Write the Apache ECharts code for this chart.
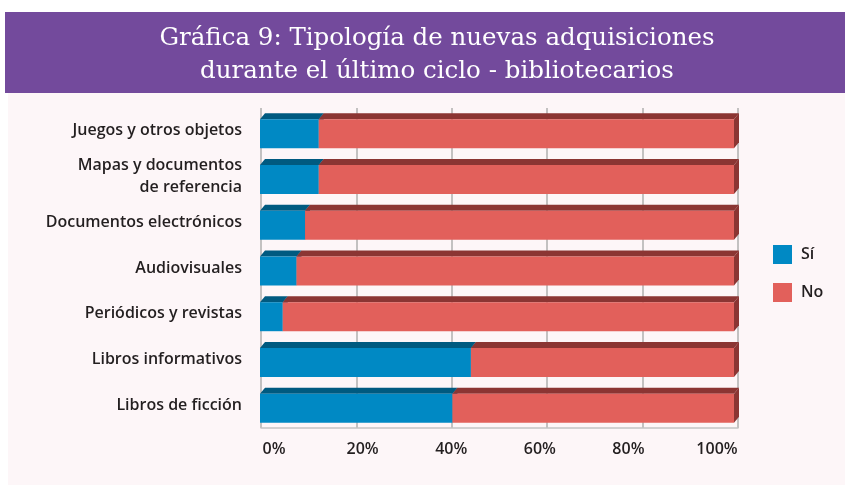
<!DOCTYPE html>
<html>
<head>
<meta charset="utf-8">
<script src="https://cdn.jsdelivr.net/npm/echarts@6/dist/echarts.min.js"></script>
<style>html,body{margin:0;padding:0;background:#fff}#c{width:845px;height:486px}</style>
</head>
<body>
<div id="c"></div>
<script>
var titleText = 'Gráfica 9: Tipología de nuevas adquisiciones\ndurante el último ciclo - bibliotecarios';
var categories = ['Juegos y otros objetos', 'Mapas y documentos\nde referencia', 'Documentos electrónicos', 'Audiovisuales', 'Periódicos y revistas', 'Libros informativos', 'Libros de ficción'];
var seriesNames = ['Sí', 'No'];
var siValues = [12.4, 12.4, 9.5, 7.7, 4.8, 44.5, 40.6];
var noValues = [87.6, 87.6, 90.5, 92.3, 95.2, 55.5, 59.4];
var tickLabels = ['0%', '20%', '40%', '60%', '80%', '100%'];

var FRONT = ['#0089C4', '#E2605B'];
var DARK = ['#005A80', '#8B3533'];
var LABEL_FONT = 'Open Sans';

function makeData(startArr, valArr) {
  return valArr.map(function (v, i) { return [startArr ? startArr[i] : 0, (startArr ? startArr[i] : 0) + v, i]; });
}

function render3D(idx) {
  return function (params, api) {
    var a = api.value(0), b = api.value(1), c = api.value(2);
    var yc = api.coord([0, c])[1];
    var H = 29, dx = 5, dy = 6;
    var ft = yc - (H + dy) / 2 + dy;
    function fx(v) { return api.coord([v, c])[0] - 1 - 3 * v / 100; }
    var x0 = fx(a), x1 = fx(b);
    return {
      type: 'group',
      children: [
        { type: 'polygon', shape: { points: [[x0, ft], [x0 + dx, ft - dy], [x1 + dx, ft - dy], [x1, ft]] }, style: { fill: DARK[idx] } },
        { type: 'polygon', shape: { points: [[x1, ft], [x1 + dx, ft - dy], [x1 + dx, ft - dy + H], [x1, ft + H]] }, style: { fill: DARK[idx] } },
        { type: 'rect', shape: { x: x0, y: ft, width: x1 - x0, height: H }, style: { fill: FRONT[idx] } }
      ]
    };
  };
}

var chart = echarts.init(document.getElementById('c'));
chart.setOption({
  animation: false,
  graphic: [
    { type: 'rect', z: -10, shape: { x: 5, y: 12, width: 840, height: 81 }, style: { fill: '#734A9C' } },
    { type: 'rect', z: -10, shape: { x: 8, y: 93, width: 837, height: 392 }, style: { fill: '#FDF6F8' } }
  ],
  title: {
    text: titleText,
    left: 432, top: 17, textAlign: 'center',
    textStyle: { fontFamily: 'DejaVu Serif', fontSize: 24.5, fontWeight: 'normal', color: '#FFFFFF', lineHeight: 33 }
  },
  legend: {
    orient: 'vertical', left: 773, top: 245, padding: 0,
    itemWidth: 19, itemHeight: 19, itemGap: 19, icon: 'rect',
    data: seriesNames,
    textStyle: { fontFamily: LABEL_FONT, fontWeight: 600, fontSize: 16, color: '#231F20', padding: [0, 0, 0, 4] }
  },
  grid: [
    { left: 261, right: 107, top: 108, bottom: 58 },
    { left: 274, right: 128, top: 434, height: 1 }
  ],
  xAxis: [
    {
      type: 'value', min: 0, max: 100, interval: 20, gridIndex: 0,
      axisLabel: { show: false }, axisTick: { show: false },
      axisLine: { show: true, lineStyle: { color: '#C4C4C4', width: 1.5 } },
      splitLine: { show: true, lineStyle: { color: '#AFAFAF', width: 1.5 } }
    },
    {
      type: 'category', gridIndex: 1, data: tickLabels, boundaryGap: false,
      axisLine: { show: false }, axisTick: { show: false }, splitLine: { show: false },
      axisLabel: { margin: 6, verticalAlign: 'top', lineHeight: 16, fontFamily: LABEL_FONT, fontWeight: 600, fontSize: 16, color: '#231F20', interval: 0 }
    }
  ],
  yAxis: [
    {
      type: 'category', data: categories, inverse: true, gridIndex: 0,
      axisLine: { show: false }, axisTick: { show: false }, splitLine: { show: false },
      axisLabel: { margin: 19, fontFamily: LABEL_FONT, fontWeight: 600, fontSize: 16, color: '#231F20', lineHeight: 22, align: 'right' }
    },
    { type: 'value', gridIndex: 1, show: false }
  ],
  series: [
    {
      name: seriesNames[0], type: 'custom', xAxisIndex: 0, yAxisIndex: 0,
      itemStyle: { color: FRONT[0] },
      renderItem: render3D(0),
      encode: { x: [0, 1], y: 2 },
      data: makeData(null, siValues)
    },
    {
      name: seriesNames[1], type: 'custom', xAxisIndex: 0, yAxisIndex: 0,
      itemStyle: { color: FRONT[1] },
      renderItem: render3D(1),
      encode: { x: [0, 1], y: 2 },
      data: makeData(siValues, noValues)
    }
  ]
});
</script>
</body>
</html>
